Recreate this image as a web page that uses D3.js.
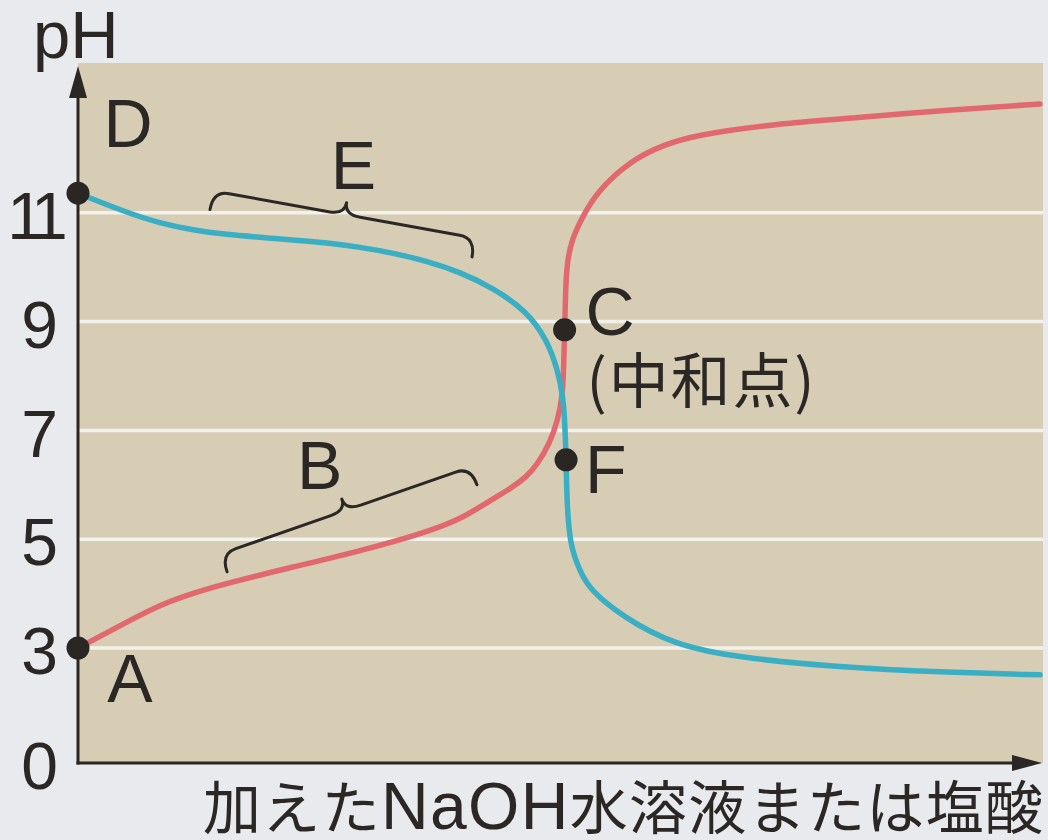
<!DOCTYPE html>
<html>
<head>
<meta charset="utf-8">
<script src="https://cdn.jsdelivr.net/npm/d3@7"></script>
<style>
  html, body { margin: 0; padding: 0; background: #e8eaee; }
  svg { display: block; }
</style>
</head>
<body>
<svg id="chart" width="1048" height="840"></svg>
<script>
// ---------------- data ----------------
// volume of added solution (arbitrary units) and pH
const redVolume = [0, 1.01, 1.68, 2.36, 3.06, 4.41, 5.79, 7.17, 7.84, 8.19, 8.52, 8.93, 9.22, 9.42, 9.69, 9.85, 9.94, 9.97, 9.99, 10.01, 10.04, 10.14, 10.31, 10.66, 11.33, 12.01, 12.71, 14.06, 15.85, 17.90, 19.75];
const redPH     = [3.00, 3.48, 3.79, 4.01, 4.19, 4.49, 4.78, 5.13, 5.37, 5.56, 5.74, 5.96, 6.16, 6.36, 6.77, 7.19, 7.60, 8.06, 8.85, 9.58, 10.10, 10.50, 10.85, 11.40, 11.95, 12.25, 12.43, 12.61, 12.74, 12.89, 13.00];

const blueVolume = [0, 1.01, 1.68, 2.36, 3.06, 3.74, 4.41, 5.11, 5.79, 6.47, 7.17, 7.84, 8.52, 9.22, 9.63, 9.85, 9.96, 10.00, 10.02, 10.04, 10.10, 10.31, 10.51, 11.19, 12.22, 13.59, 15.64, 17.70, 19.75];
const bluePH     = [11.36, 11.00, 10.81, 10.68, 10.60, 10.55, 10.50, 10.45, 10.37, 10.26, 10.11, 9.91, 9.62, 9.19, 8.66, 8.11, 7.61, 7.06, 6.46, 5.63, 4.89, 4.40, 4.07, 3.57, 3.06, 2.74, 2.50, 2.37, 2.30];

const yTickValues = [0, 3, 5, 7, 9, 11];
const gridValues  = [3, 5, 7, 9, 11];

const pointNames  = ["A", "C", "D", "F"];
const pointVolume = [0, 9.99, 0, 10.02];
const pointPH     = [3.00, 8.85, 11.36, 6.46];

const braceNames       = ["B", "E"];
const braceStartVolume = [3.06, 2.71];
const braceStartPH     = [4.40, 11.06];
const braceEndVolume   = [8.19, 8.09];
const braceEndPH       = [6.00, 10.19];

const yAxisTitle = "pH";
const xAxisTitleParts = ["加えた", "NaOH", "水溶液または塩酸"];
const neutralNote = "(中和点)";

// ---------------- layout ----------------
const plotLeft = 78, plotRight = 1043, plotTop = 63, plotBottom = 763;
const ink = "#2b2725";
const latinFont = "'Liberation Sans', Arial, Helvetica, sans-serif";
const cjkFont = "'Noto Sans CJK JP', 'Noto Sans CJK SC', sans-serif";

const svg = d3.select("#chart");

const x = d3.scaleLinear().domain([0, 19.75]).range([plotLeft, 1040]);
const y = d3.scaleLinear().domain([0, 3, 13]).range([plotBottom, 648, 104]);

// plot background
svg.append("rect")
  .attr("x", plotLeft).attr("y", plotTop)
  .attr("width", plotRight - plotLeft).attr("height", plotBottom - plotTop)
  .attr("fill", "#d7cdb5");

// grid lines
svg.append("g").selectAll("line").data(gridValues).join("line")
  .attr("x1", plotLeft).attr("x2", plotRight)
  .attr("y1", d => y(d)).attr("y2", d => y(d))
  .attr("stroke", "#f3f1ec").attr("stroke-width", 3.5);

// y tick labels via axis
const yAxis = svg.append("g")
  .attr("transform", `translate(${plotLeft},0)`)
  .call(d3.axisLeft(y).tickValues(yTickValues).tickSize(0).tickFormat(d3.format("d")));
yAxis.select(".domain").remove();
yAxis.attr("font-family", latinFont).attr("font-size", 66);
yAxis.selectAll("text")
  .attr("fill", ink)
  .attr("text-anchor", "middle")
  .attr("dy", "0.39em")
  .attr("x", d => String(d).length > 1 ? -44.6 : -38.5)
  .style("letter-spacing", d => String(d).length > 1 ? "-8px" : "0px");

// axes with arrows
svg.append("line")
  .attr("x1", plotLeft).attr("x2", plotLeft)
  .attr("y1", plotBottom + 1.5).attr("y2", 92)
  .attr("stroke", ink).attr("stroke-width", 3);
svg.append("path")
  .attr("d", `M${plotLeft},66 L${plotLeft - 9},98 L${plotLeft + 9},98 Z`)
  .attr("fill", ink);
svg.append("line")
  .attr("x1", plotLeft - 1.5).attr("x2", 1018)
  .attr("y1", plotBottom).attr("y2", plotBottom)
  .attr("stroke", ink).attr("stroke-width", 3);
svg.append("path")
  .attr("d", `M1042,${plotBottom} L1012,${plotBottom - 8} L1012,${plotBottom + 8} Z`)
  .attr("fill", ink);

// braces
function bracePath(p0, p1, h, w) {
  // p0 left end, p1 right end, tip points "up" (towards negative screen y)
  const dx = p1[0] - p0[0], dy = p1[1] - p0[1];
  const len = Math.hypot(dx, dy);
  const ux = dx / len, uy = dy / len;
  const nx = uy, ny = -ux; // normal pointing up
  const f = (t, o) => [p0[0] + dx * t + nx * o, p0[1] + dy * t + ny * o];
  const P = p => p[0].toFixed(2) + "," + p[1].toFixed(2);
  return "M" + P(f(0, 0)) +
    " Q" + P(f(0, h)) + " " + P(f(0.06, h)) +
    " L" + P(f(0.44, h)) +
    " Q" + P(f(0.5, h)) + " " + P(f(0.5, w)) +
    " Q" + P(f(0.5, h)) + " " + P(f(0.56, h)) +
    " L" + P(f(0.94, h)) +
    " Q" + P(f(1, h)) + " " + P(f(1, 0));
}
const braceLabelOffset = { B: [-22, -10], E: [7, -14] };
braceNames.forEach((name, i) => {
  const p0 = [x(braceStartVolume[i]), y(braceStartPH[i])];
  const p1 = [x(braceEndVolume[i]), y(braceEndPH[i])];
  svg.append("path")
    .attr("d", bracePath(p0, p1, 19, 31))
    .attr("fill", "none").attr("stroke", ink).attr("stroke-width", 3)
    .attr("stroke-linecap", "round").attr("stroke-linejoin", "round");
  const dx = p1[0] - p0[0], dy = p1[1] - p0[1], len = Math.hypot(dx, dy);
  const tip = [(p0[0] + p1[0]) / 2 + dy / len * 31, (p0[1] + p1[1]) / 2 - dx / len * 31];
  svg.append("text")
    .attr("x", tip[0] + braceLabelOffset[name][0])
    .attr("y", tip[1] + braceLabelOffset[name][1])
    .attr("text-anchor", "middle")
    .attr("font-family", latinFont).attr("font-size", 68)
    .attr("fill", ink).text(name);
});

// curves
const line = d3.line()
  .x(d => x(d[0])).y(d => y(d[1]))
  .curve(d3.curveBasis);
svg.append("path")
  .datum(redVolume.map((v, i) => [v, redPH[i]]))
  .attr("d", line)
  .attr("fill", "none").attr("stroke", "#e2686f").attr("stroke-width", 5.5)
  .attr("stroke-linecap", "round");
svg.append("path")
  .datum(blueVolume.map((v, i) => [v, bluePH[i]]))
  .attr("d", line)
  .attr("fill", "none").attr("stroke", "#3aafc4").attr("stroke-width", 5.5)
  .attr("stroke-linecap", "round");

// points
const pts = pointNames.map((n, i) => ({ name: n, v: pointVolume[i], ph: pointPH[i] }));
svg.append("g").selectAll("circle").data(pts).join("circle")
  .attr("cx", d => x(d.v)).attr("cy", d => y(d.ph))
  .attr("r", 11.5).attr("fill", "#2a2624");

const pointLabelOffset = {
  A: [52, 54, "middle"],
  C: [21, 5, "start"],
  D: [50, -46, "middle"],
  F: [19, 33, "start"]
};
svg.append("g").selectAll("text").data(pts).join("text")
  .attr("x", d => x(d.v) + pointLabelOffset[d.name][0])
  .attr("y", d => y(d.ph) + pointLabelOffset[d.name][1])
  .attr("text-anchor", d => pointLabelOffset[d.name][2])
  .attr("font-family", latinFont).attr("font-size", 68)
  .attr("fill", ink).text(d => d.name);

// neutralization note under C
const cIdx = pointNames.indexOf("C");
svg.append("text")
  .attr("x", x(pointVolume[cIdx]) + 22)
  .attr("y", y(pointPH[cIdx]) + 73)
  .attr("font-family", cjkFont).attr("font-size", 60)
  .attr("textLength", 228).attr("lengthAdjust", "spacing")
  .attr("fill", ink).text(neutralNote);

// axis titles
svg.append("text")
  .attr("x", 33).attr("y", 58)
  .attr("font-family", latinFont).attr("font-size", 67)
  .attr("fill", ink).text(yAxisTitle);

const xt = svg.append("text")
  .attr("x", 203).attr("y", 829)
  .attr("font-family", cjkFont).attr("font-size", 58)
  .attr("textLength", 840).attr("lengthAdjust", "spacing")
  .attr("fill", ink);
xt.append("tspan").text(xAxisTitleParts[0]);
xt.append("tspan").attr("font-family", latinFont).attr("font-size", 66).text(xAxisTitleParts[1]);
xt.append("tspan").text(xAxisTitleParts[2]);
</script>
</body>
</html>
